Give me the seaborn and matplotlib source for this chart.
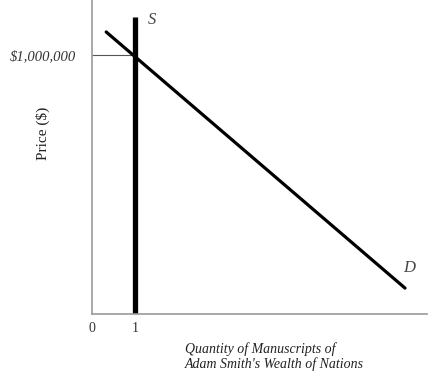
import matplotlib
matplotlib.use("Agg")
import matplotlib.pyplot as plt
import seaborn as sns
import pandas as pd

# Data
supply_q = [1, 1]
supply_p = [0, 1_147_000]
demand_q = [0.33, 7.28]
demand_p = [1_089_000, 100_000]
equilibrium_q = 1
equilibrium_p = 1_000_000
x_ticks = [0, 1]
x_tick_labels = ["0", "1"]
y_ticks = [1_000_000]
y_tick_labels = ["$1,000,000"]

sns.set_style("white")
plt.rcParams['font.family'] = ['Liberation Serif', 'DejaVu Serif']

fig = plt.figure(figsize=(4.34, 3.78), dpi=100)
ax = fig.add_axes([92/434, 64/378, 335/434, 314/378])

sup = pd.DataFrame({"q": supply_q, "p": supply_p})
dem = pd.DataFrame({"q": demand_q, "p": demand_p})

# guide line
ax.plot([0, equilibrium_q], [equilibrium_p, equilibrium_p], color="#555555", lw=0.8, zorder=1)
sns.lineplot(data=dem, x="q", y="p", ax=ax, color="black", lw=2.3, zorder=3,
             estimator=None, sort=False)
sns.lineplot(data=sup, x="q", y="p", ax=ax, color="black", lw=3.8, zorder=2,
             estimator=None, sort=False, solid_capstyle="butt")

ax.set_xlim(0, 335/43)
ax.set_ylim(0, 314/259*1e6)

ax.set_xticks(x_ticks)
ax.set_xticklabels(x_tick_labels, fontsize=10, color="#333333")
ax.set_yticks(y_ticks)
ax.set_yticklabels(y_tick_labels, fontsize=10.5, style="italic", color="#333333")
ax.tick_params(axis="both", length=0)
ax.tick_params(axis="x", pad=6)
ax.tick_params(axis="y", pad=11.5)

for s in ["top", "right"]:
    ax.spines[s].set_visible(False)
for s in ["left", "bottom"]:
    ax.spines[s].set_color("#999999")
    ax.spines[s].set_linewidth(1.2)

ax.set_xlabel("")
ax.set_ylabel("Price ($)", fontsize=11, color="#222222")
ax.yaxis.set_label_coords(-0.125, 0.576)

ax.text(148/434, 1-20/378, "S", transform=fig.transFigure, fontsize=12,
        style="italic", color="#444444", va="center", ha="left")
ax.text(403/434, 1-268/378, "D", transform=fig.transFigure, fontsize=12,
        style="italic", color="#444444", va="center", ha="left")
fig.text(185/434, 1-357/378, "Quantity of Manuscripts of\nAdam Smith's Wealth of Nations",
         fontsize=10, style="italic", color="#222222", va="center", ha="left",
         linespacing=1.1)

fig.savefig("out.png", dpi=100)
